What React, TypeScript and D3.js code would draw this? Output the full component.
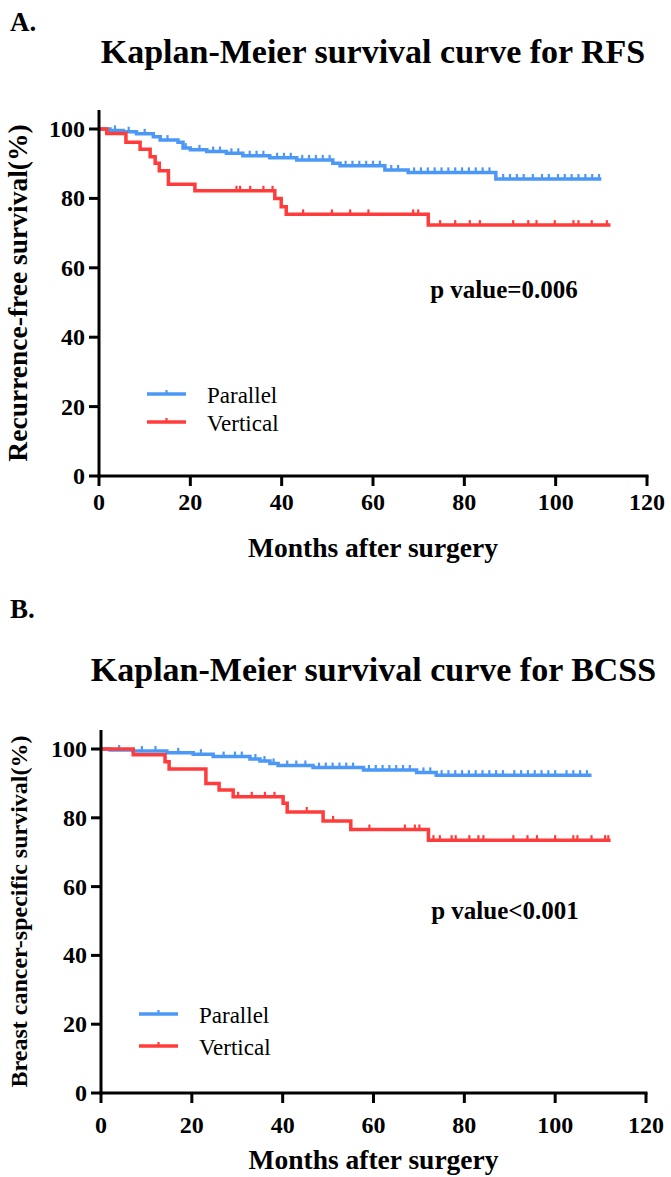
import React from "react";
import * as d3 from "d3";

// ---------- Data ----------
const xTicks = [0, 20, 40, 60, 80, 100, 120];
const yTicks = [0, 20, 40, 60, 80, 100];
const seriesNames = ["Parallel", "Vertical"];

// Panel A: RFS
const rfsParallelTimes = [0, 2.4, 5.3, 8.2, 11.9, 13.4, 17.3, 18.4, 20, 23.6, 27.9, 31.5, 37.4, 43.3, 51.2, 52.8, 62.6, 67.7, 86.9];
const rfsParallelSurv = [100, 99.6, 99.2, 98.6, 97.8, 96.8, 96.2, 94.5, 94.0, 93.5, 93.0, 92.3, 91.7, 91.1, 90.1, 89.4, 88.2, 87.5, 85.6];
const rfsParallelEnd = 110;
const rfsParallelCensor = [3.5, 6.5, 10, 15, 19, 22, 25, 26.5, 29, 30.5, 33, 34.5, 36, 39, 40.5, 42, 44.5, 46, 47.5, 49, 50.5, 54, 55.5, 57, 58.5, 60, 61.5, 64, 65.5, 69, 70.5, 72, 73.5, 75, 76.5, 78, 79.5, 81, 82.5, 84, 85.5, 88.5, 90, 91.5, 93, 95, 97, 98.5, 100.5, 102, 103.5, 105, 106.5, 108, 109.5];

const rfsVerticalTimes = [0, 1.7, 5.9, 9, 11.2, 12.3, 13.2, 15.2, 21, 38.5, 39.9, 41, 72.1];
const rfsVerticalSurv = [100, 98.7, 96.2, 94.2, 92.0, 90.1, 88.0, 84.1, 82.2, 80.0, 77.6, 75.4, 72.3];
const rfsVerticalEnd = 112;
const rfsVerticalCensor = [30.1, 30.9, 33.1, 36, 38, 44.7, 51, 55, 59, 68.8, 69.9, 74.7, 78, 81.2, 83.4, 90.7, 94, 95.8, 99.8, 103.9, 105, 107.9, 111.2];

// Panel B: BCSS
const bcssParallelTimes = [0, 2, 7.1, 14.5, 20.3, 24.7, 32.8, 35, 37.2, 39, 46.7, 57.8, 69.5, 73.8];
const bcssParallelSurv = [100, 99.7, 99.4, 98.9, 98.5, 97.8, 97.1, 96.5, 95.8, 95.2, 94.6, 93.9, 93.2, 92.4];
const bcssParallelEnd = 108;
const bcssParallelCensor = [4, 9, 12, 17, 22, 27, 29.5, 31, 34, 36, 38, 41, 43, 45, 48, 49.5, 51, 52.5, 54, 55.5, 59, 60.5, 62, 63.5, 65, 66.5, 68, 71, 72.5, 75, 76.5, 78, 79.5, 81, 82.5, 84, 85.5, 87, 88.5, 91, 92.5, 94, 95.5, 97, 98.5, 100, 102.5, 104, 105.5, 107];

const bcssVerticalTimes = [0, 7.1, 14.1, 15, 23.1, 26, 29.1, 40.1, 41, 48.9, 55, 72.1];
const bcssVerticalSurv = [100, 98.3, 96.3, 94.2, 90.0, 88.1, 86.1, 84.2, 81.7, 79.1, 76.6, 73.5];
const bcssVerticalEnd = 112.2;
const bcssVerticalCensor = [30.2, 33.2, 36.1, 38.2, 45.3, 51.1, 59.1, 66.9, 69.1, 70.1, 73.2, 74.6, 77.2, 78.1, 81.1, 83.1, 84.2, 90.8, 93.9, 96, 100, 104, 104.9, 108, 111, 111.7];

// ---------- Styles ----------
const BLUE = "#4b98f6";
const RED = "#ff3c3c";
const FONT = "Liberation Serif, Tinos, Times New Roman, Times, DejaVu Serif, serif";

type Series = { times: number[]; surv: number[]; end: number; censor: number[]; color: string };

function survAt(s: Series, t: number) {
  let v = s.surv[0];
  for (let i = 0; i < s.times.length; i++) if (s.times[i] <= t) v = s.surv[i];
  return v;
}

type PanelProps = {
  letter: string;
  letterY: number;
  title: string;
  titleY: number;
  yLabel: string;
  yLabelSize: number;
  x0: number; x1: number; yBottom: number; yTop100: number; axisTop: number;
  tickLabelY: number;
  xTitleY: number;
  pText: string; pX: number; pY: number;
  legX0: number; legX1: number; legTextX: number; legY: number[];
  series: Series[];
};

function Panel(p: PanelProps) {
  const x = d3.scaleLinear().domain([0, 120]).range([p.x0, p.x1]);
  const y = d3.scaleLinear().domain([0, 100]).range([p.yBottom, p.yTop100]);
  const line = d3.line<[number, number]>().x(d => x(d[0])).y(d => y(d[1])).curve(d3.curveStepAfter);
  const ts = { fontFamily: FONT } as React.CSSProperties;
  return (
    <g style={ts}>
      <text x={10} y={p.letterY} fontSize={27} fontWeight="bold" style={ts}>{p.letter}</text>
      <text x={(p.x0 + p.x1) / 2} y={p.titleY} fontSize={34} fontWeight="bold" textAnchor="middle" style={ts}>{p.title}</text>
      {p.series.map((s, i) => {
        const pts: [number, number][] = s.times.map((t, k) => [t, s.surv[k]] as [number, number]);
        pts.push([s.end, s.surv[s.surv.length - 1]]);
        return (
          <g key={i}>
            <path d={line(pts) || ""} fill="none" stroke={s.color} strokeWidth={3.5} />
            {s.censor.map((c, k) => (
              <line key={k} x1={x(c)} x2={x(c)} y1={y(survAt(s, c)) - 1} y2={y(survAt(s, c)) - 5} stroke={s.color} strokeWidth={2.2} />
            ))}
          </g>
        );
      })}
      <line x1={p.x0} x2={p.x0} y1={p.axisTop} y2={p.yBottom + 1.5} stroke="#000" strokeWidth={3} />
      <line x1={p.x0 - 1.5} x2={p.x1 + 1.5} y1={p.yBottom} y2={p.yBottom} stroke="#000" strokeWidth={3} />
      {yTicks.map(t => (
        <g key={"y" + t}>
          <line x1={p.x0 - 10} x2={p.x0} y1={y(t)} y2={y(t)} stroke="#000" strokeWidth={3} />
          <text x={p.x0 - 14} y={y(t) + 8} fontSize={24} fontWeight="bold" textAnchor="end" style={ts}>{t}</text>
        </g>
      ))}
      {xTicks.map(t => (
        <g key={"x" + t}>
          <line x1={x(t)} x2={x(t)} y1={p.yBottom} y2={p.yBottom + 10} stroke="#000" strokeWidth={3} />
          <text x={x(t)} y={p.tickLabelY} fontSize={24} fontWeight="bold" textAnchor="middle" style={ts}>{t}</text>
        </g>
      ))}
      <text x={(p.x0 + p.x1) / 2} y={p.xTitleY} fontSize={27.5} fontWeight="bold" textAnchor="middle" style={ts}>Months after surgery</text>
      <text transform={`translate(27,${(p.yBottom + p.axisTop) / 2}) rotate(-90)`} fontSize={p.yLabelSize} fontWeight="bold" textAnchor="middle" style={ts}>{p.yLabel}</text>
      <text x={p.pX} y={p.pY} fontSize={25} fontWeight="bold" textAnchor="middle" style={ts}>{p.pText}</text>
      {p.series.map((s, i) => (
        <g key={"l" + i}>
          <line x1={p.legX0} x2={p.legX1} y1={p.legY[i]} y2={p.legY[i]} stroke={s.color} strokeWidth={3.5} />
          <line x1={(p.legX0 + p.legX1) / 2} x2={(p.legX0 + p.legX1) / 2} y1={p.legY[i] - 1} y2={p.legY[i] - 4} stroke={s.color} strokeWidth={2.2} />
          <text x={p.legTextX} y={p.legY[i] + 9} fontSize={23} style={ts}>{seriesNames[i]}</text>
        </g>
      ))}
    </g>
  );
}

export default function App() {
  const seriesA: Series[] = [
    { times: rfsParallelTimes, surv: rfsParallelSurv, end: rfsParallelEnd, censor: rfsParallelCensor, color: BLUE },
    { times: rfsVerticalTimes, surv: rfsVerticalSurv, end: rfsVerticalEnd, censor: rfsVerticalCensor, color: RED },
  ];
  const seriesB: Series[] = [
    { times: bcssParallelTimes, surv: bcssParallelSurv, end: bcssParallelEnd, censor: bcssParallelCensor, color: BLUE },
    { times: bcssVerticalTimes, surv: bcssVerticalSurv, end: bcssVerticalEnd, censor: bcssVerticalCensor, color: RED },
  ];
  return (
    <svg width={671} height={1177} style={{ position: "absolute", left: 0, top: 0, background: "#fff" }}>
      <rect width={671} height={1177} fill="#fff" />
      <Panel letter="A." letterY={31} title="Kaplan-Meier survival curve for RFS" titleY={63}
        yLabel="Recurrence-free survival(%)" yLabelSize={27.5}
        x0={99} x1={647} yBottom={476} yTop100={129} axisTop={110}
        tickLabelY={510} xTitleY={557}
        pText="p value=0.006" pX={504} pY={298}
        legX0={147} legX1={186} legTextX={207} legY={[394, 422]} series={seriesA} />
      <Panel letter="B." letterY={618} title="Kaplan-Meier survival curve for BCSS" titleY={681}
        yLabel="Breast cancer-specific survival(%)" yLabelSize={24}
        x0={101} x1={646} yBottom={1093} yTop100={749} axisTop={730}
        tickLabelY={1133} xTitleY={1169}
        pText="p value<0.001" pX={505} pY={919}
        legX0={139} legX1={178} legTextX={199} legY={[1014, 1046]} series={seriesB} />
    </svg>
  );
}
